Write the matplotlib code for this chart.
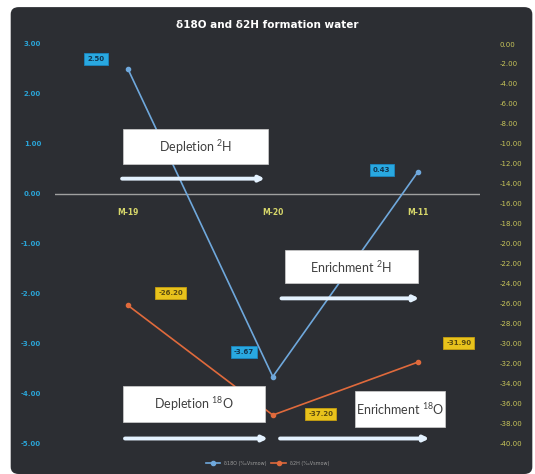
import matplotlib
matplotlib.use('Agg')
import matplotlib.pyplot as plt
from matplotlib.patches import FancyBboxPatch, Rectangle

plt.rcParams['mathtext.fontset'] = 'custom'
plt.rcParams['mathtext.rm'] = 'Lato'
plt.rcParams['mathtext.default'] = 'rm'

wells = ['M-19', 'M-20', 'M-11']
d18o = [2.50, -3.67, 0.43]
d2h = [-26.20, -37.20, -31.90]
left_ticks = [3, 2, 1, 0, -1, -2, -3, -4, -5]
right_ticks = list(range(0, -42, -2))

bg = '#2c2e33'
blue = '#6fa8dc'
orange = '#e06a3c'

fig = plt.figure(figsize=(5.35, 4.74), dpi=100)
fig.patch.set_facecolor('white')
fig.add_artist(FancyBboxPatch((0.02, 0.0), 0.975, 0.985, boxstyle='round,pad=0,rounding_size=0.015',
                              transform=fig.transFigure, facecolor=bg, edgecolor='none', zorder=-10))

ax = fig.add_axes([55 / 535, 1 - 443 / 474, 425 / 535, 399 / 474])
ax.set_facecolor('none')
ax2 = ax.twinx()
ax2.set_facecolor('none')


def r(y):
    # left-axis value -> right-axis value
    return (y - 3) * 5


x = list(range(len(wells)))
ax.plot(x, d18o, color=blue, lw=1.2, marker='o', ms=3, label='δ18O (‰Vsmow)', zorder=3)
ax2.plot(x, d2h, color=orange, lw=1.2, marker='o', ms=3, label='δ2H (‰Vsmow)', zorder=3)

ax.set_xlim(-0.503, 2.43)
ax.set_ylim(-5, 3)
ax2.set_ylim(-40, 0)
ax.axhline(0, color='#a0a0a0', lw=1, zorder=1)

ax.set_yticks(left_ticks)
ax.set_yticklabels(['%.2f' % v for v in left_ticks], color='#2aa3d6', fontsize=5, fontweight='bold')
ax2.set_yticks(right_ticks)
ax2.set_yticklabels(['%.2f' % v for v in right_ticks], color='#c9c65a', fontsize=5)
ax.tick_params(axis='y', length=0, pad=10)
ax2.tick_params(axis='y', length=0, pad=14)
ax.set_xticks([])
for a in (ax, ax2):
    for s in a.spines.values():
        s.set_visible(False)

# category labels just under the zero line
for i, w in enumerate(wells):
    ax.text(i, -0.38, w, color='#d6d66a', fontsize=5.5, fontweight='bold', ha='center', va='center')

# data labels
blue_off = [(-32, 10), (-29, 25), (-36, 2)]
for i, v in enumerate(d18o):
    ax.annotate('%.2f' % v, (i, v), xytext=blue_off[i], textcoords='offset pixels', ha='center', va='center',
                fontsize=5, color='#12344f', fontweight='bold', zorder=6,
                bbox=dict(boxstyle='square,pad=0.45', fc='#29a8e0', ec='#1a86c0', lw=0.6))
orange_off = [(43, 12), (48, 1), (41, 19)]
for i, v in enumerate(d2h):
    ax2.annotate('%.2f' % v, (i, v), xytext=orange_off[i], textcoords='offset pixels', ha='center', va='center',
                 fontsize=5, color='#5a4a10', fontweight='bold', zorder=6,
                 bbox=dict(boxstyle='square,pad=0.45', fc='#e8c21c', ec='#c8a010', lw=0.6))

# annotation boxes and arrows (given in left-axis units, drawn on top axis)
boxes = [
    ((-0.034, 0.586), 1.0, 0.70, 'Depletion $^{2}$H'),
    ((1.083, -1.80), 0.917, 0.67, 'Enrichment $^{2}$H'),
    ((-0.034, -4.57), 0.979, 0.71, 'Depletion $^{18}$O'),
    ((1.566, -4.67), 0.62, 0.71, 'Enrichment $^{18}$O'),
]
for (bx, by), bw, bh, txt in boxes:
    ax2.add_patch(Rectangle((bx, r(by)), bw, bh * 5, fc='white', ec='#d0d0d0', lw=0.5, zorder=7))
    ax2.text(bx + bw / 2, r(by + bh / 2), txt, ha='center', va='center', fontsize=9,
             family='Lato', color='#404040', zorder=8)

arrows = [(-0.04, 0.945, 0.30), (1.06, 2.01, -2.10), (-0.02, 0.966, -4.91), (1.05, 2.08, -4.91)]
for x0, x1, yy in arrows:
    ax2.annotate('', xy=(x1, r(yy)), xytext=(x0, r(yy)), zorder=7, annotation_clip=False,
                 arrowprops=dict(arrowstyle='-|>,head_length=0.3,head_width=0.15', color='#e4f2ff', lw=2.8,
                                 shrinkA=0, shrinkB=0))

fig.text(0.5, 0.947, 'δ18O and δ2H formation water', color='white', fontsize=7.5, fontweight='bold',
         ha='center', va='center')

h1, l1 = ax.get_legend_handles_labels()
h2, l2 = ax2.get_legend_handles_labels()
leg = fig.legend(h1 + h2, l1 + l2, loc='center', bbox_to_anchor=(0.5, 0.023), ncol=2, fontsize=3.5,
                 frameon=False, labelcolor='#9a9a9a', handlelength=3, columnspacing=1)

fig.savefig('out.png', dpi=100, facecolor=fig.get_facecolor())
